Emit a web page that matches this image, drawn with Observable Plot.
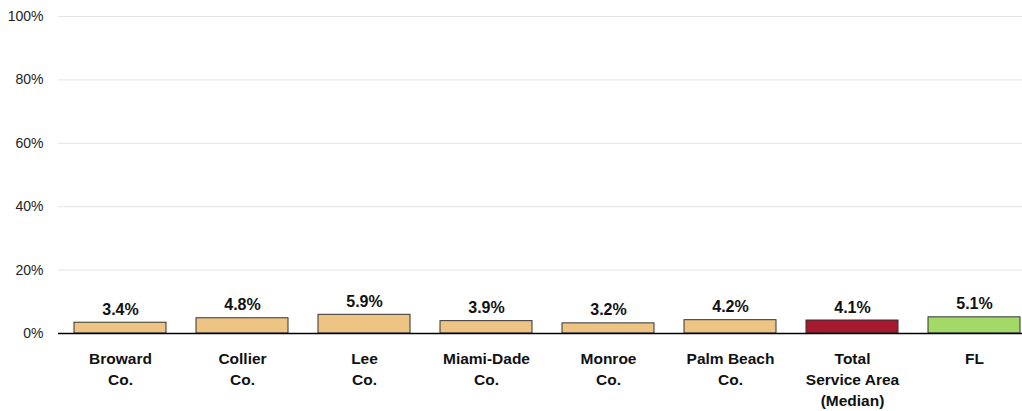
<!DOCTYPE html>
<html><head><meta charset="utf-8">
<script src="https://cdn.jsdelivr.net/npm/d3@7"></script>
<script src="https://cdn.jsdelivr.net/npm/@observablehq/plot@0.6"></script>
<style>body{margin:0;background:#fff;} </style>
</head><body><div id="chart"></div>
<script>
const categories = ["Broward\nCo.", "Collier\nCo.", "Lee\nCo.", "Miami-Dade\nCo.", "Monroe\nCo.", "Palm Beach\nCo.", "Total\nService Area\n(Median)", "FL"];
const values = [3.4, 4.8, 5.9, 3.9, 3.2, 4.2, 4.1, 5.1];
const colors = ["#EDC483", "#EDC483", "#EDC483", "#EDC483", "#EDC483", "#EDC483", "#A6192E", "#A3D966"];
const yTicks = [0, 20, 40, 60, 80, 100];

const data = categories.map((c, i) => ({cat: c, value: values[i], color: colors[i]}));

const chart = Plot.plot({
  width: 1022,
  height: 411,
  marginLeft: 58,
  marginRight: 0,
  marginTop: 16,
  marginBottom: 78,
  style: {fontFamily: "'Liberation Sans', Arial, sans-serif", background: "#fff"},
  x: {domain: categories, range: [58.5, 1034.5], paddingInner: 0.25, paddingOuter: 0.125},
  y: {domain: [0, 100]},
  marks: [
    Plot.ruleY(yTicks.filter(d => d > 0), {stroke: "#e4e4e4", strokeWidth: 1}),
    Plot.axisY({ticks: yTicks, tickSize: 0, tickPadding: 15, tickFormat: d => d + "%", fontSize: 14, fill: "#222", label: null}),
    Plot.barY(data, {x: "cat", y: "value", fill: "color", stroke: "#333", strokeWidth: 1}),
    Plot.ruleY([0], {stroke: "#000", strokeWidth: 1.5}),
    Plot.text(data, {x: "cat", y: "value", text: d => d.value.toFixed(1) + "%", lineAnchor: "bottom", dy: -8, fontSize: 16, fontWeight: "bold", fill: "#111"}),
    Plot.axisX({tickSize: 0, tickPadding: 16, fontSize: 15.5, fontWeight: "bold", lineHeight: 1.35, fill: "#111", label: null})
  ]
});
document.getElementById("chart").append(chart);
</script>
</body></html>
